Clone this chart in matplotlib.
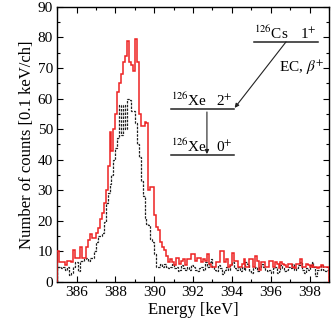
import numpy as np
import matplotlib
matplotlib.use("Agg")
import matplotlib.pyplot as plt
from matplotlib.ticker import MultipleLocator

plt.rcParams['font.family'] = ['Liberation Serif', 'DejaVu Serif']
plt.rcParams['mathtext.fontset'] = 'stix'

# bins of 0.1 keV from 385.0 to 399.0
e_start = 385.0
bin_width = 0.1

red_counts = [
    10, 6.5, 6.5, 6.5, 5.5, 7, 7, 6.5, 10.5, 8,
    8, 8, 11.5, 8, 8, 11.5, 13.7, 15.7, 14.4, 14.5,
    16, 17.7, 20.6, 22.6, 26, 30, 38, 49, 43, 50,
    55, 62, 65, 68, 72, 74, 79, 72, 71, 69,
    79.5, 72, 55, 51, 51, 52.5, 52, 30, 31, 31,
    22, 18, 17, 13, 11.5, 10.5, 8.5, 6.5, 7.5, 6.5,
    5.5, 8, 8, 6, 7, 7.5, 5.5, 7.5, 7.5, 9,
    9, 7, 8, 8, 6.5, 7.5, 7, 9, 6, 5,
    5, 5, 6.5, 6.5, 10, 10, 6.5, 7.5, 5, 5.5,
    9.5, 7, 7, 5, 5, 6, 7.5, 5, 5, 7.5,
    7.5, 5, 8.5, 7, 4, 6.5, 6.5, 5, 5, 7,
    7, 5, 6.5, 6, 4.5, 6.5, 6, 5.5, 5, 6,
    6, 5, 4.5, 6, 6, 7.5, 5, 5, 6, 5.5,
    5, 5.5, 5, 5, 4.5, 5, 5.5, 5, 5, 5,
]

black_counts = [
    5, 5, 4.5, 5, 4, 5, 2.3, 3, 5, 6.5,
    6.5, 3.6, 7, 7, 7.5, 8, 7, 8, 8, 10,
    13, 15, 15, 16, 19.7, 26, 29, 32, 35, 40,
    44, 47, 58, 48, 58, 50, 60, 59.5, 56, 56,
    52, 45, 41, 33, 28, 21, 19, 18.5, 14, 13,
    9, 5, 5, 6, 5, 6, 5, 4.5, 5, 6,
    4.5, 5, 3.5, 4, 5.5, 4.5, 4, 5, 4, 5.5,
    5, 4, 3.5, 4.5, 5, 4, 6.5, 5, 6.5, 7.5,
    5, 4, 3.5, 5.5, 4.5, 2.5, 4, 5, 4, 5.5,
    6.5, 4.5, 4, 5, 3.5, 5, 4, 6.5, 6, 3.5,
    3, 4.5, 5, 3.5, 5, 6, 5, 4, 3.5, 4,
    3, 4.5, 5, 3, 3.5, 5.5, 4.5, 3.5, 4, 5,
    4.5, 6, 4, 4.5, 5.5, 6.5, 4, 3, 4.5, 4,
    5.5, 6.5, 5, 2, 4, 4, 5.5, 4, 3.5, 4,
]

x_ticks = [386, 388, 390, 392, 394, 396, 398]
y_ticks = [0, 10, 20, 30, 40, 50, 60, 70, 80, 90]

edges = np.round(e_start + bin_width * np.arange(len(red_counts) + 1), 2)

fig = plt.figure(figsize=(3.32, 3.21), dpi=100)
ax = fig.add_axes([0.172, 0.1215, 0.819, 0.857])

ax.stairs(black_counts, edges, color='#222222', lw=0.9, linestyle=(0, (2, 1)), zorder=2)
ax.stairs(red_counts, edges, color='#ee2222', lw=1.1, zorder=3)

ax.set_xlim(385, 399)
ax.set_ylim(0, 90)
ax.set_xticks(x_ticks)
ax.set_yticks(y_ticks)
ax.xaxis.set_minor_locator(MultipleLocator(1))
ax.yaxis.set_minor_locator(MultipleLocator(5))
ax.tick_params(which='both', direction='in', top=True, right=True, labelsize=11, pad=3)
ax.tick_params(which='major', length=4, width=0.8)
ax.tick_params(which='minor', length=2.5, width=0.8)
for s in ax.spines.values():
    s.set_linewidth(1.0)

ax.set_xlabel('Energy [keV]', fontsize=12, labelpad=2)
ax.set_ylabel('Number of counts [0.1 keV/ch]', fontsize=12, labelpad=2)

# decay scheme
T = ax.transAxes
lc = '#222222'
ax.plot([0.724, 0.960], [0.872, 0.872], color=lc, lw=1.1, transform=T)
ax.plot([0.419, 0.651], [0.629, 0.629], color=lc, lw=1.1, transform=T)
ax.plot([0.419, 0.651], [0.462, 0.462], color=lc, lw=1.1, transform=T)
ax.annotate('', xy=(0.653, 0.633), xytext=(0.842, 0.873), xycoords=T, textcoords=T,
            arrowprops=dict(arrowstyle='-|>', color=lc, lw=0.8, mutation_scale=6, shrinkA=0, shrinkB=0))
ax.annotate('', xy=(0.551, 0.465), xytext=(0.551, 0.618), xycoords=T, textcoords=T,
            arrowprops=dict(arrowstyle='-|>', color=lc, lw=0.8, mutation_scale=6, shrinkA=0, shrinkB=0))

fs = 11
ax.text(0.724, 0.884, r'$^{126}$Cs', transform=T, fontsize=fs, ha='left', va='baseline')
ax.text(0.955, 0.884, r'1$^{+}$', transform=T, fontsize=fs, ha='right', va='baseline')
ax.text(0.816, 0.778, r'EC, $\beta^{+}$', transform=T, fontsize=fs, ha='left', va='center')
ax.text(0.419, 0.641, r'$^{126}$Xe', transform=T, fontsize=fs, ha='left', va='baseline')
ax.text(0.647, 0.641, r'2$^{+}$', transform=T, fontsize=fs, ha='right', va='baseline')
ax.text(0.419, 0.474, r'$^{126}$Xe', transform=T, fontsize=fs, ha='left', va='baseline')
ax.text(0.647, 0.474, r'0$^{+}$', transform=T, fontsize=fs, ha='right', va='baseline')

fig.savefig('out.png', dpi=100)
